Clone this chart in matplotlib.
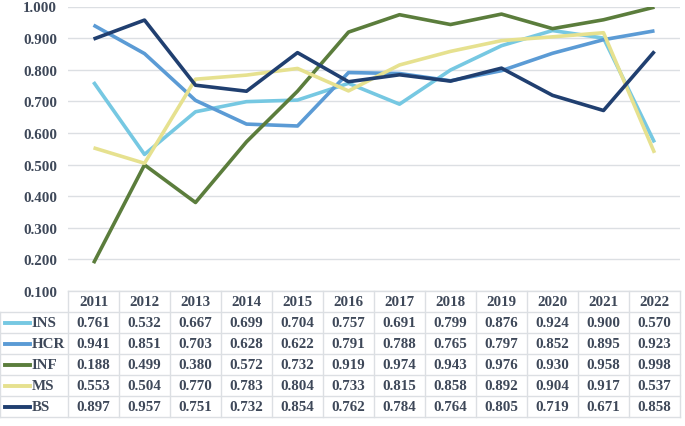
import matplotlib
matplotlib.use("Agg")
import matplotlib.pyplot as plt
import matplotlib.transforms as mtransforms
from matplotlib.lines import Line2D

years = ["2011", "2012", "2013", "2014", "2015", "2016", "2017", "2018", "2019", "2020", "2021", "2022"]
series_names = ["INS", "HCR", "INF", "MS", "BS"]
ins = [0.761, 0.532, 0.667, 0.699, 0.704, 0.757, 0.691, 0.799, 0.876, 0.924, 0.900, 0.570]
hcr = [0.941, 0.851, 0.703, 0.628, 0.622, 0.791, 0.788, 0.765, 0.797, 0.852, 0.895, 0.923]
inf = [0.188, 0.499, 0.380, 0.572, 0.732, 0.919, 0.974, 0.943, 0.976, 0.930, 0.958, 0.998]
ms = [0.553, 0.504, 0.770, 0.783, 0.804, 0.733, 0.815, 0.858, 0.892, 0.904, 0.917, 0.537]
bs = [0.897, 0.957, 0.751, 0.732, 0.854, 0.762, 0.784, 0.764, 0.805, 0.719, 0.671, 0.858]
yticks = [0.1, 0.2, 0.3, 0.4, 0.5, 0.6, 0.7, 0.8, 0.9, 1.0]

data = [ins, hcr, inf, ms, bs]
colors = ["#76c8e2", "#5b9bd5", "#5b7d3c", "#e6e18f", "#203f70"]
txt_color = "#3e4859"
grid_color = "#dcdfe3"
font = dict(family="Liberation Serif", weight="bold", size=10.8, color=txt_color)

W, H = 685, 427
fig = plt.figure(figsize=(W / 100, H / 100), dpi=100)
ax = fig.add_axes([68 / W, 1 - 292 / H, 612 / W, 284.5 / H])
x = list(range(len(years)))

for vals, c in zip(data, colors):
    ax.plot(x, vals, color=c, lw=2.6, solid_capstyle="butt", zorder=3)

ax.set_xlim(-0.5, len(years) - 0.5)
ax.set_ylim(0.1, 1.0)
ax.set_yticks(yticks)
ax.set_yticklabels([f"{v:.3f}" for v in yticks], fontdict=font)
ax.tick_params(axis="y", length=0, pad=8)
ax.set_xticks([])
for s in ax.spines.values():
    s.set_visible(False)
ax.grid(axis="y", color=grid_color, lw=1, zorder=0)
ax.set_axisbelow(True)

# table below axes
row_h = 21 / 284.5
blend = mtransforms.blended_transform_factory(ax.transData, ax.transAxes)
label_left = -68 / 612
nrows = len(series_names)
# horizontal lines
ax.add_line(Line2D([-0.5, len(years) - 0.5], [0, 0], transform=blend, color=grid_color, lw=1, clip_on=False))
for r in range(1, nrows + 2):
    yv = -r * row_h
    ax.add_line(Line2D([label_left, 1], [yv, yv], transform=ax.transAxes, color=grid_color, lw=1, clip_on=False))
# vertical lines
for i in range(len(years) + 1):
    ax.add_line(Line2D([i - 0.5, i - 0.5], [0, -(nrows + 1) * row_h], transform=blend, color=grid_color, lw=1, clip_on=False))
ax.add_line(Line2D([label_left, label_left], [-row_h, -(nrows + 1) * row_h], transform=ax.transAxes, color=grid_color, lw=1, clip_on=False))

for i, yr in enumerate(years):
    ax.text(i, -0.5 * row_h, yr, transform=blend, ha="center", va="center", **font)
for r, (name, vals, c) in enumerate(zip(series_names, data, colors)):
    yc = -(r + 1.5) * row_h
    for i, v in enumerate(vals):
        ax.text(i, yc, f"{v:.3f}", transform=blend, ha="center", va="center", **font)
    ax.add_line(Line2D([-63 / 612, -38 / 612], [yc, yc], transform=ax.transAxes, color=c, lw=2.8, clip_on=False))
    ax.text(-36 / 612, yc, name, transform=ax.transAxes, ha="left", va="center", **font)

fig.savefig("out.png", dpi=100)
